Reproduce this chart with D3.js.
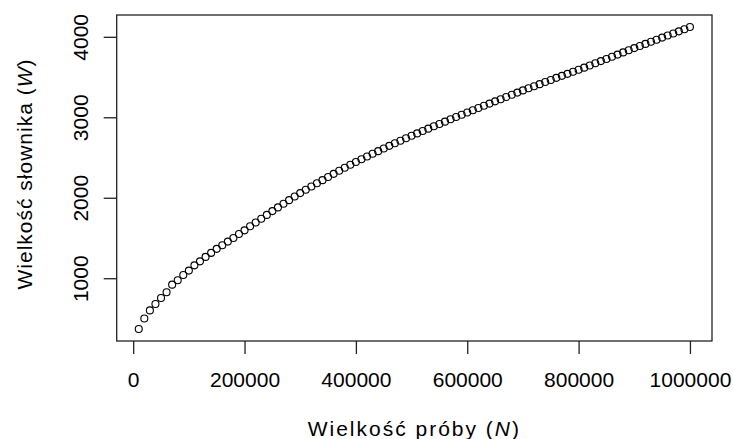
<!DOCTYPE html>
<html lang="pl">
<head>
    <meta charset="UTF-8">
    <title>Wielkość słownika</title>
    <script src="https://d3js.org/d3.v7.min.js"></script>
    <style>
        body { margin: 0; background: #fff; }
        text { font-family: "Liberation Sans", Arial, sans-serif; fill: #000; }
    </style>
</head>
<body>

    <script>

        // sample size N (every 10000 words)
        var sampleSizes = [
            10000, 20000, 30000, 40000, 50000, 60000, 70000, 80000, 90000, 100000,
            110000, 120000, 130000, 140000, 150000, 160000, 170000, 180000, 190000, 200000,
            210000, 220000, 230000, 240000, 250000, 260000, 270000, 280000, 290000, 300000,
            310000, 320000, 330000, 340000, 350000, 360000, 370000, 380000, 390000, 400000,
            410000, 420000, 430000, 440000, 450000, 460000, 470000, 480000, 490000, 500000,
            510000, 520000, 530000, 540000, 550000, 560000, 570000, 580000, 590000, 600000,
            610000, 620000, 630000, 640000, 650000, 660000, 670000, 680000, 690000, 700000,
            710000, 720000, 730000, 740000, 750000, 760000, 770000, 780000, 790000, 800000,
            810000, 820000, 830000, 840000, 850000, 860000, 870000, 880000, 890000, 900000,
            910000, 920000, 930000, 940000, 950000, 960000, 970000, 980000, 990000, 1000000
        ]

        // vocabulary size W
        var vocabSizes = [
            370, 500, 600, 680, 755, 825, 920, 975, 1040, 1095,
            1160, 1210, 1265, 1315, 1365, 1410, 1455, 1500, 1550, 1595,
            1645, 1693, 1740, 1787, 1834, 1880, 1925, 1970, 2015, 2058,
            2099, 2140, 2180, 2219, 2258, 2297, 2335, 2373, 2410, 2445,
            2479, 2513, 2546, 2579, 2612, 2645, 2677, 2708, 2739, 2770,
            2800, 2830, 2859, 2888, 2917, 2946, 2975, 3004, 3032, 3060,
            3088, 3116, 3143, 3170, 3198, 3225, 3252, 3280, 3307, 3334,
            3360, 3386, 3412, 3438, 3464, 3490, 3515, 3540, 3565, 3590,
            3617, 3644, 3671, 3698, 3725, 3752, 3779, 3806, 3833, 3860,
            3886, 3912, 3938, 3964, 3990, 4016, 4042, 4068, 4094, 4121
        ]

        var xTicks = [0, 200000, 400000, 600000, 800000, 1000000]
        var yTicks = [1000, 2000, 3000, 4000]

        var w = 733, h = 439;
        var padLeft = 116.7, padRight = 712, padTop = 15, padBottom = 341;

        var svg = d3.select('body')
                    .append('svg')
                    .attr('width', w)
                    .attr('height', h)

        // R style 4% padding on both axes
        var xMin = d3.min(sampleSizes), xMax = d3.max(sampleSizes)
        var xPad = (xMax - xMin) * 0.04
        var yMin = d3.min(vocabSizes), yMax = d3.max(vocabSizes)
        var yPad = (yMax - yMin) * 0.04

        var xScale = d3.scaleLinear()
                        .domain([xMin - xPad, xMax + xPad])
                        .range([padLeft, padRight])

        var yScale = d3.scaleLinear()
                        .domain([yMin - yPad, yMax + yPad])
                        .range([padBottom, padTop])

        //axes
        var axisx = d3.axisBottom(xScale)
                        .tickValues(xTicks)
                        .tickSize(13)
                        .tickPadding(18)
                        .tickFormat(d3.format('d'))

        var gx = svg.append('g')
            .attr('transform', 'translate(0, ' + padBottom + ')')
            .call(axisx)

        var axisy = d3.axisLeft(yScale)
                        .tickValues(yTicks)
                        .tickSize(13)
                        .tickFormat(d3.format('d'))

        var gy = svg.append('g')
            .attr('transform', 'translate(' + padLeft + ', 0)')
            .call(axisy)

        svg.selectAll('.domain').remove()
        svg.selectAll('.tick line').attr('stroke', '#222').attr('stroke-width', 1.3)
        svg.selectAll('.tick text')
            .attr('font-family', '"Liberation Sans", Arial, sans-serif')
            .attr('font-size', 21)
            .attr('fill', '#111')

        gy.selectAll('.tick text')
            .attr('x', 0)
            .attr('y', 0)
            .attr('dy', 0)
            .attr('text-anchor', 'middle')
            .attr('transform', 'translate(' + (88 - padLeft) + ', 0) rotate(-90)')

        //box
        svg.append('rect')
            .attr('x', padLeft)
            .attr('y', padTop)
            .attr('width', padRight - padLeft)
            .attr('height', padBottom - padTop)
            .attr('fill', 'none')
            .attr('stroke', '#222')
            .attr('stroke-width', 1.3)

        //points
        svg.selectAll('circle')
            .data(sampleSizes)
            .enter()
            .append('circle')
            .attr('cx', (d) => xScale(d))
            .attr('cy', (d, i) => yScale(vocabSizes[i]))
            .attr('r', 3.5)
            .attr('fill', 'none')
            .attr('stroke', '#000')
            .attr('stroke-width', 1.1)

        //labels
        var xl = svg.append('text')
            .attr('x', (padLeft + padRight) / 2)
            .attr('y', 436)
            .attr('text-anchor', 'middle')
            .attr('font-size', 21)
            .attr('letter-spacing', 2)
            .attr('fill', '#111')
        xl.append('tspan').text('Wielkość próby (')
        xl.append('tspan').attr('font-style', 'italic').text('N')
        xl.append('tspan').text(')')

        var yl = svg.append('text')
            .attr('transform', 'translate(32, 174) rotate(-90)')
            .attr('text-anchor', 'middle')
            .attr('font-size', 21)
            .attr('letter-spacing', 1)
            .attr('fill', '#111')
        yl.append('tspan').text('Wielkość słownika (')
        yl.append('tspan').attr('font-style', 'italic').text('W')
        yl.append('tspan').text(')')

    </script>

</body>
</html>
